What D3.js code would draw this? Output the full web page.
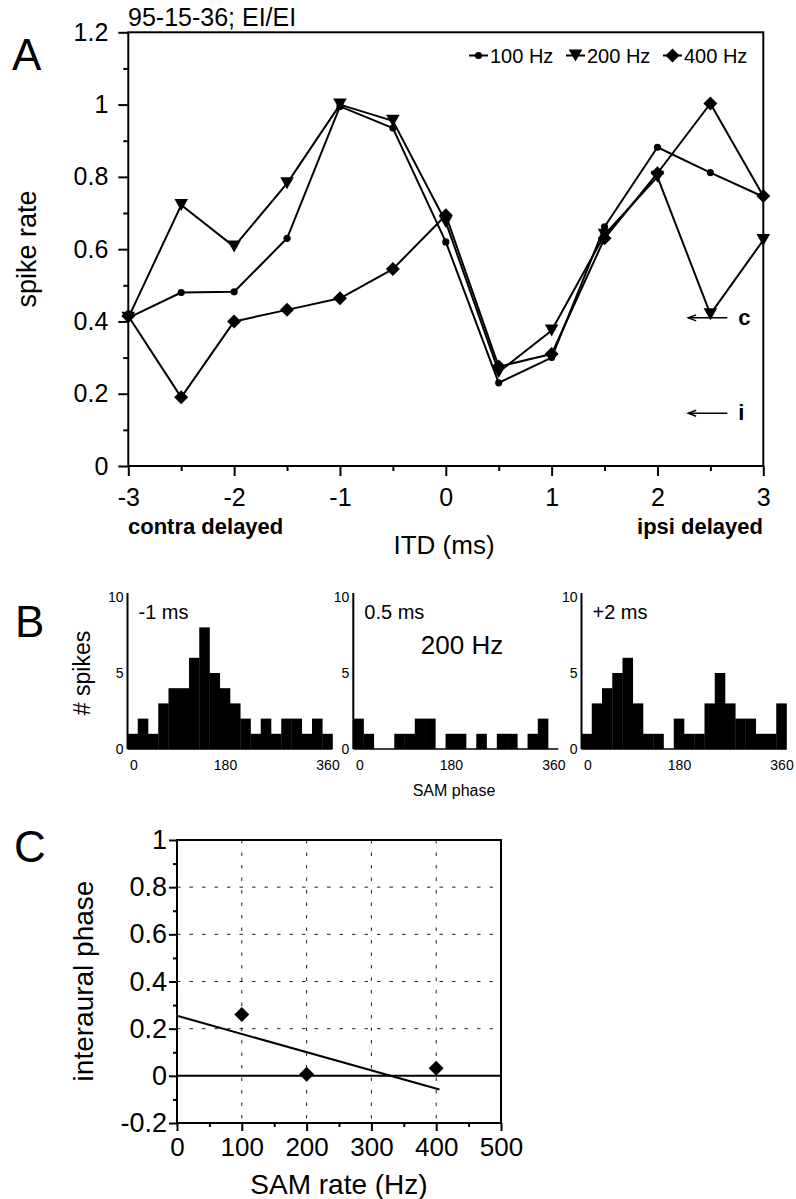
<!DOCTYPE html>
<html><head><meta charset="utf-8">
<script src="https://cdn.jsdelivr.net/npm/d3@7"></script>
<style>
body{margin:0;background:#fff}
svg{display:block}
text{font-family:"Liberation Sans",Arial,Helvetica,sans-serif;fill:#000}
</style>
</head><body>
<svg id="chart" width="796" height="1199"></svg>
<script>
// ---------- Panel A data ----------
const itd = [-3,-2.5,-2,-1.5,-1,-0.5,0,0.5,1,1.5,2,2.5,3];
const rate100 = [0.41,0.48,0.482,0.63,0.995,0.935,0.62,0.23,0.30,0.662,0.882,0.812,0.745];
const rate200 = [0.41,0.722,0.607,0.782,1.0,0.955,0.675,0.26,0.375,0.64,0.80,0.42,0.625];
const rate400 = [0.415,0.19,0.40,0.432,0.464,0.545,0.694,0.275,0.31,0.63,0.81,1.003,0.747];
const seriesNames = ["100 Hz","200 Hz","400 Hz"];
const yTicksA = [0,0.2,0.4,0.6,0.8,1,1.2];
const yMinorA = [0.1,0.3,0.5,0.7,0.9,1.1];
const xTicksA = [-3,-2,-1,0,1,2,3];
const xMinorA = [-2.5,-1.5,-0.5,0.5,1.5,2.5];
const refLabels = ["c","i"];
const refValues = [0.41,0.146];
const refArrowFrom = 2.66, refArrowTo = 2.29;

// ---------- Panel B data ----------
const histLabels = ["-1 ms","0.5 ms","+2 ms"];
const hist1 = [1,2,1,3,4,4,6,8,5,4,3,2,1,2,1,2,2,1,2,1];
const hist2 = [2,1,0,0,1,1,2,2,0,1,1,0,1,0,1,1,0,1,2,0];
const hist3 = [1,3,4,5,6,3,1,1,0,2,1,1,3,5,3,2,2,1,1,3];
const phaseTicks = [0,180,360];
const countTicks = [0,5,10];

// ---------- Panel C data ----------
const samRate = [100,200,400];
const ipd = [0.26,0.007,0.032];
const fitX = [0,405];
const fitY = [0.255,-0.058];
const zeroX = [0,500];
const xTicksC = [0,100,200,300,400,500];
const xMinorC = [50,150,250,350,450];
const yTicksC = [-0.2,0,0.2,0.4,0.6,0.8,1];
const yMinorC = [-0.1,0.1,0.3,0.5,0.7,0.9];
const gridX = [100,200,300,400];
const gridY = [0.2,0.4,0.6,0.8];

const svg = d3.select("#chart");
const fmt0 = d3.format("~g");
const fmt = d => fmt0(d).replace("\u2212","-");

function diamond(r){ return `M0,${-r}L${r},0L0,${r}L${-r},0Z`; }
function triDown(w,h){ return `M${-w},${-h}L${w},${-h}L0,${h}Z`; }

function styleAxis(g, size){
  g.select(".domain").remove();
  g.selectAll(".tick line").attr("stroke","#000").attr("stroke-width",2);
  g.selectAll("text").attr("font-size",size).attr("font-family",'"Liberation Sans",Arial,sans-serif').attr("fill","#000");
}

// ================= PANEL A =================
const A = {l:128.3, r:763.3, t:32.3, b:466};
const xA = d3.scaleLinear().domain([-3,3]).range([A.l,A.r]);
const yA = d3.scaleLinear().domain([0,1.2]).range([A.b,A.t]);
const gA = svg.append("g");

gA.append("g").attr("transform",`translate(${A.l},0)`)
  .call(d3.axisLeft(yA).tickValues(yMinorA).tickSize(5).tickFormat(""))
  .call(g=>styleAxis(g,0));
gA.append("g").attr("transform",`translate(0,${A.b})`)
  .call(d3.axisBottom(xA).tickValues(xMinorA).tickSize(5).tickFormat(""))
  .call(g=>styleAxis(g,0));
gA.append("g").attr("transform",`translate(${A.l},0)`)
  .call(d3.axisLeft(yA).tickValues(yTicksA).tickSize(10).tickPadding(10).tickFormat(fmt))
  .call(g=>styleAxis(g,25));
gA.append("g").attr("transform",`translate(0,${A.b})`)
  .call(d3.axisBottom(xA).tickValues(xTicksA).tickSize(10).tickFormat(fmt))
  .call(g=>{styleAxis(g,25); g.selectAll("text").attr("y",40).attr("dy",0);});
gA.append("rect").attr("x",A.l).attr("y",A.t).attr("width",A.r-A.l).attr("height",A.b-A.t)
  .attr("fill","none").attr("stroke","#000").attr("stroke-width",2);

const series = [rate100, rate200, rate400];
const lineA = d3.line().x((d,i)=>xA(itd[i])).y(d=>yA(d));
series.forEach(s=>{
  gA.append("path").datum(s).attr("d",lineA).attr("fill","none").attr("stroke","#000").attr("stroke-width",2).attr("stroke-linejoin","round");
});
const markers = [
  g=>g.append("circle").attr("r",3.6).attr("fill","#000"),
  g=>g.append("path").attr("d",triDown(6.8,6)).attr("fill","#000"),
  g=>g.append("path").attr("d",diamond(7)).attr("fill","#000")
];
series.forEach((s,k)=>{
  s.forEach((v,i)=>{
    const g = gA.append("g").attr("transform",`translate(${xA(itd[i])},${yA(v)})`);
    markers[k](g);
  });
});

// legend
const legX = [469,566,663];
seriesNames.forEach((n,k)=>{
  const g = gA.append("g").attr("transform",`translate(${legX[k]},55.5)`);
  g.append("line").attr("x1",0).attr("x2",19).attr("stroke","#000").attr("stroke-width",2);
  const m = g.append("g").attr("transform","translate(9.5,0)");
  markers[k](m);
  g.append("text").attr("x",21).attr("y",7.5).attr("font-size",20).text(n);
});

// reference arrows
refLabels.forEach((lab,i)=>{
  const y = yA(refValues[i]);
  const x1 = xA(refArrowFrom), x0 = xA(refArrowTo);
  gA.append("line").attr("x1",x0).attr("x2",x1).attr("y1",y).attr("y2",y).attr("stroke","#000").attr("stroke-width",1.4);
  gA.append("path").attr("d",`M${x0+8},${y-3}L${x0},${y}L${x0+8},${y+3}`).attr("fill","none").attr("stroke","#000").attr("stroke-width",1.4);
  gA.append("text").attr("x",x1+11).attr("y",y+7).attr("font-size",22).attr("font-weight","bold").text(lab);
});

svg.append("text").attr("x",12).attr("y",70).attr("font-size",44).text("A");
svg.append("text").attr("x",128).attr("y",26).attr("font-size",25).text("95-15-36; EI/EI");
svg.append("text").attr("transform","translate(36,249) rotate(-90)").attr("text-anchor","middle").attr("font-size",27).text("spike rate");
svg.append("text").attr("x",128).attr("y",534).attr("font-size",22).attr("font-weight","bold").text("contra delayed");
svg.append("text").attr("x",763).attr("y",534).attr("text-anchor","end").attr("font-size",22).attr("font-weight","bold").text("ipsi delayed");
svg.append("text").attr("x",444).attr("y",554).attr("text-anchor","middle").attr("font-size",26).text("ITD (ms)");

// ================= PANEL B =================
const hists = [hist1,hist2,hist3];
const histLeft = [127.5,353.3,581.5];
const histW = 205;
const yB = d3.scaleLinear().domain([0,10]).range([749,597]);
hists.forEach((h,k)=>{
  const x = d3.scaleLinear().domain([0,360]).range([histLeft[k],histLeft[k]+histW]);
  const bw = 360/h.length;
  const g = svg.append("g");
  g.selectAll("rect").data(h).join("rect")
    .attr("x",(d,i)=>x(i*bw)).attr("width",(d,i)=>x((i+1)*bw)-x(i*bw)+0.3)
    .attr("y",d=>yB(d)).attr("height",d=>yB(0)-yB(d)).attr("fill","#000");
  g.append("line").attr("x1",x(0)).attr("x2",x(360)).attr("y1",yB(0)).attr("y2",yB(0)).attr("stroke","#000").attr("stroke-width",1.5);
  g.append("line").attr("x1",x(0)).attr("x2",x(0)).attr("y1",yB(10)-4).attr("y2",yB(0)).attr("stroke","#000").attr("stroke-width",2);
  g.append("g").attr("transform",`translate(${x(0)},0)`)
    .call(d3.axisLeft(yB).tickValues(countTicks).tickSize(0).tickPadding(4))
    .call(gg=>{styleAxis(gg,14);});
  g.append("g").attr("transform",`translate(0,${yB(0)})`)
    .call(d3.axisBottom(x).tickValues(phaseTicks).tickSize(0))
    .call(gg=>{styleAxis(gg,14); gg.selectAll("text").attr("y",21).attr("dy",0).attr("dx",(d)=>d===0?6:-5);});
  g.append("text").attr("x",histLeft[k]+11).attr("y",619).attr("font-size",20).text(histLabels[k]);
});
svg.append("text").attr("x",15).attr("y",637).attr("font-size",44).text("B");
svg.append("text").attr("transform","translate(90,673) rotate(-90)").attr("text-anchor","middle").attr("font-size",23).text("# spikes");
svg.append("text").attr("x",462).attr("y",654).attr("text-anchor","middle").attr("font-size",26).text("200 Hz");
svg.append("text").attr("x",454).attr("y",796).attr("text-anchor","middle").attr("font-size",16).text("SAM phase");

// ================= PANEL C =================
const C = {l:177, r:501, t:840, b:1123};
const xC = d3.scaleLinear().domain([0,500]).range([C.l,C.r]);
const yC = d3.scaleLinear().domain([-0.2,1]).range([C.b,C.t]);
const gC = svg.append("g");
gC.selectAll(".gx").data(gridX).join("line").attr("class","gx")
  .attr("x1",d=>xC(d)).attr("x2",d=>xC(d)).attr("y1",C.t).attr("y2",C.b)
  .attr("stroke","#222").attr("stroke-width",1).attr("stroke-dasharray","3.5,9");
gC.selectAll(".gy").data(gridY).join("line").attr("class","gy")
  .attr("y1",d=>yC(d)).attr("y2",d=>yC(d)).attr("x1",C.l).attr("x2",C.r)
  .attr("stroke","#222").attr("stroke-width",1).attr("stroke-dasharray","3.5,9");
gC.append("g").attr("transform",`translate(${C.l},0)`)
  .call(d3.axisLeft(yC).tickValues(yMinorC).tickSize(4).tickFormat(""))
  .call(g=>styleAxis(g,0));
gC.append("g").attr("transform",`translate(0,${C.b})`)
  .call(d3.axisBottom(xC).tickValues(xMinorC).tickSize(4).tickFormat(""))
  .call(g=>styleAxis(g,0));
gC.append("g").attr("transform",`translate(${C.l},0)`)
  .call(d3.axisLeft(yC).tickValues(yTicksC).tickSize(8).tickPadding(2).tickFormat(fmt))
  .call(g=>styleAxis(g,27));
gC.append("g").attr("transform",`translate(0,${C.b})`)
  .call(d3.axisBottom(xC).tickValues(xTicksC).tickSize(8).tickFormat(fmt))
  .call(g=>{styleAxis(g,26); g.selectAll("text").attr("y",33).attr("dy",0);});
gC.append("rect").attr("x",C.l).attr("y",C.t).attr("width",C.r-C.l).attr("height",C.b-C.t)
  .attr("fill","none").attr("stroke","#000").attr("stroke-width",2);
gC.append("line").attr("x1",xC(zeroX[0])).attr("x2",xC(zeroX[1])).attr("y1",yC(0)).attr("y2",yC(0))
  .attr("stroke","#000").attr("stroke-width",2);
gC.append("path").datum(fitX.map((x,i)=>[x,fitY[i]]))
  .attr("d",d3.line().x(d=>xC(d[0])).y(d=>yC(d[1])))
  .attr("fill","none").attr("stroke","#000").attr("stroke-width",2);
gC.selectAll(".pt").data(samRate).join("path").attr("class","pt")
  .attr("transform",(d,i)=>`translate(${xC(d)},${yC(ipd[i])})`)
  .attr("d",diamond(7.5)).attr("fill","#000");

svg.append("text").attr("x",14).attr("y",862).attr("font-size",44).text("C");
svg.append("text").attr("transform","translate(93,981) rotate(-90)").attr("text-anchor","middle").attr("font-size",28).text("interaural phase");
svg.append("text").attr("x",339).attr("y",1194).attr("text-anchor","middle").attr("font-size",28).text("SAM rate (Hz)");
</script>
</body></html>
